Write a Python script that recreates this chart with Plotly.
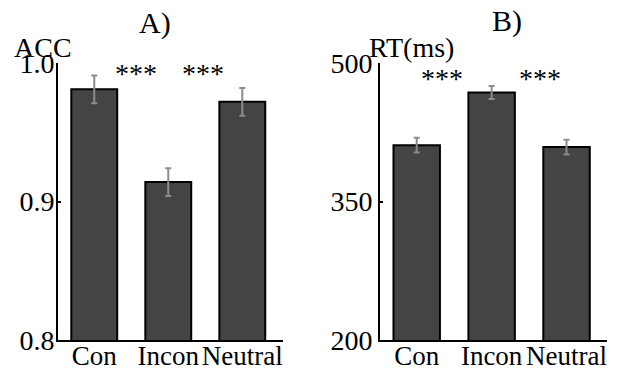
import plotly.graph_objects as go

categories = ["Con", "Incon", "Neutral"]
acc_values = [0.981, 0.914, 0.972]
acc_errors = [0.010, 0.010, 0.010]
rt_values = [411, 468, 409]
rt_errors = [8, 7, 8]
acc_ticks = [0.8, 0.9, 1.0]
acc_tick_labels = ["0.8", "0.9", "1.0"]
rt_ticks = [200, 350, 500]
rt_tick_labels = ["200", "350", "500"]
panel_titles = ["A)", "B)"]
axis_titles = ["ACC", "RT(ms)"]
sig_label = "***"

FONT = "Liberation Serif, Times New Roman, serif"
W, H = 620, 372

def px_x(p):
    return p / W

def px_y(p):
    return 1 - p / H

fig = go.Figure()

bar_style = dict(
    marker=dict(color="#444444", line=dict(color="black", width=2)),
    width=0.62,
    showlegend=False,
    hoverinfo="skip",
)
err_style = dict(type="data", color="#8c8c8c", thickness=2, width=3)

fig.add_trace(go.Bar(x=categories, y=acc_values,
                     error_y=dict(array=acc_errors, **err_style),
                     xaxis="x", yaxis="y", **bar_style))
fig.add_trace(go.Bar(x=categories, y=rt_values,
                     error_y=dict(array=rt_errors, **err_style),
                     xaxis="x2", yaxis="y2", **bar_style))

ydom = [px_y(340), px_y(63)]
axis_common = dict(showgrid=False, zeroline=False, showline=True,
                   linecolor="black", linewidth=2)
xfont = dict(family=FONT, size=27, color="black")
yfont = dict(family=FONT, size=28, color="black")

fig.update_layout(
    width=W, height=H,
    margin=dict(l=0, r=0, t=0, b=0),
    paper_bgcolor="white", plot_bgcolor="white",
    font=dict(family=FONT, color="black"),
    xaxis=dict(domain=[px_x(58), px_x(283)], anchor="y", type="category",
               range=[-0.49, 2.55], ticks="", tickangle=0, tickfont=xfont,
               ticklabelstandoff=-9, automargin=False, **axis_common),
    yaxis=dict(domain=ydom, anchor="x", range=[0.8, 1.0],
               tickvals=acc_ticks, ticktext=acc_tick_labels, tickfont=yfont,
               ticks="inside", ticklen=3, tickwidth=2, tickcolor="black",
               ticklabelstandoff=-4, automargin=False, **axis_common),
    xaxis2=dict(domain=[px_x(380), px_x(607)], anchor="y2", type="category",
                range=[-0.49, 2.54], ticks="", tickangle=0, tickfont=xfont,
                ticklabelstandoff=-9, automargin=False, **axis_common),
    yaxis2=dict(domain=ydom, anchor="x2", range=[200, 500],
                tickvals=rt_ticks, ticktext=rt_tick_labels, tickfont=yfont,
                ticks="inside", ticklen=3, tickwidth=2, tickcolor="black",
                ticklabelstandoff=0, automargin=False, **axis_common),
)

ann = []
# panel titles
for txt, x, y in [(panel_titles[0], 155, 23), (panel_titles[1], 507, 21)]:
    ann.append(dict(text=txt, x=px_x(x), y=px_y(y), xref="paper", yref="paper",
                    showarrow=False, font=dict(family=FONT, size=30, color="black"),
                    xanchor="center", yanchor="middle"))
# axis titles
for txt, x, y in [(axis_titles[0], 43, 47), (axis_titles[1], 411, 47)]:
    ann.append(dict(text=txt, x=px_x(x), y=px_y(y), xref="paper", yref="paper",
                    showarrow=False, font=dict(family=FONT, size=28, color="black"),
                    xanchor="center", yanchor="middle"))
# significance stars
for sx in [0.57, 1.47]:
    ann.append(dict(text=sig_label, x=sx, y=0.9926, xref="x", yref="y",
                    showarrow=False, font=dict(family=FONT, size=28, color="black"),
                    xanchor="center", yanchor="middle"))
for sx in [0.34, 1.65]:
    ann.append(dict(text=sig_label, x=sx, y=483, xref="x2", yref="y2",
                    showarrow=False, font=dict(family=FONT, size=28, color="black"),
                    xanchor="center", yanchor="middle"))
fig.update_layout(annotations=ann)

fig.write_html("out.html", config={"displayModeBar": False},
               post_script="document.body.style.margin='0';")
